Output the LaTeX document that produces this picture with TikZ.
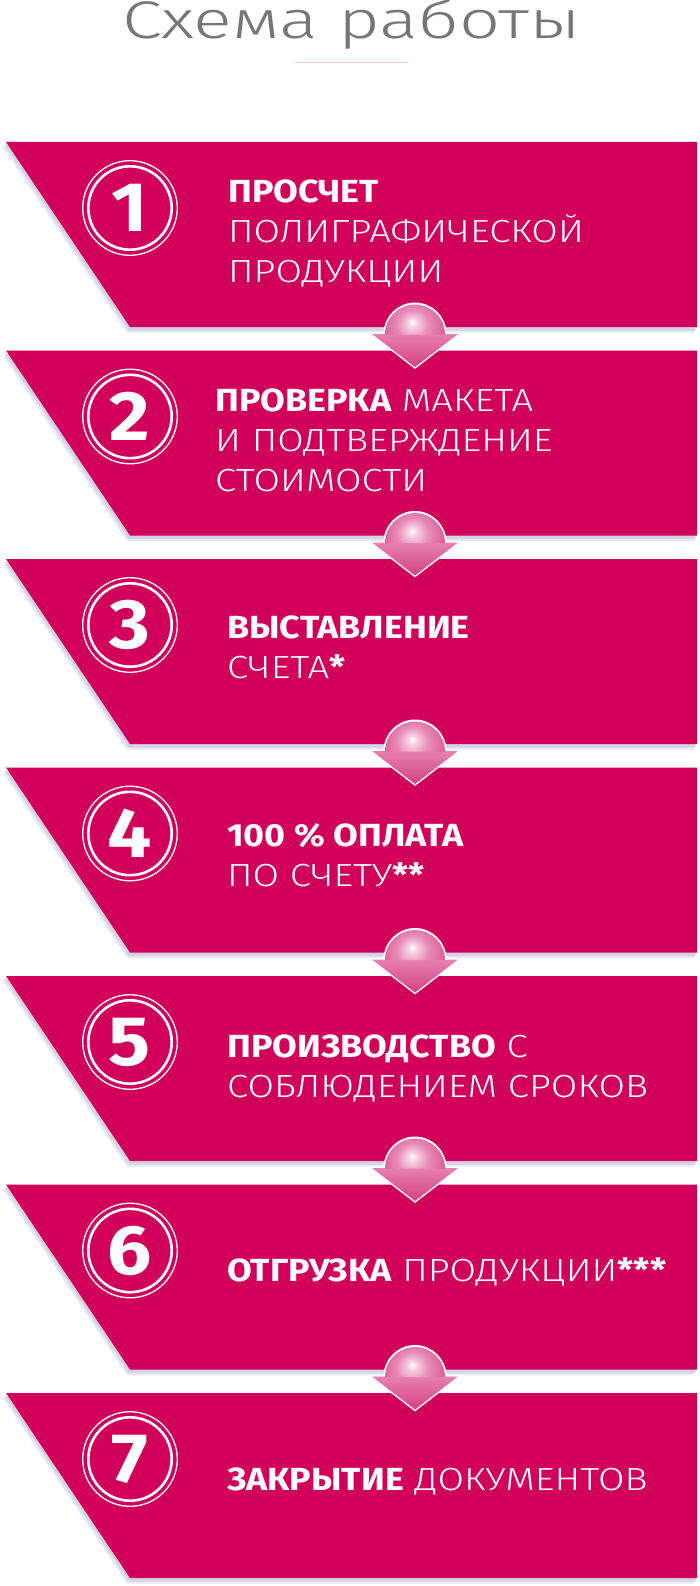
\documentclass[tikz,border=0pt]{standalone}
\usepackage{fontspec}
\setmainfont{Fira Sans}
\newfontfamily\lt{Fira Sans Light}[FakeStretch=1.2]
\newfontfamily\ttl{Fira Sans Light}[FakeStretch=1.36]
\newfontfamily\bd{Fira Sans}[FakeStretch=1.12]
\usetikzlibrary{calc}
\definecolor{mag}{RGB}{209,0,91}
\definecolor{titlegray}{RGB}{118,118,118}
\definecolor{uline}{RGB}{246,196,218}
\definecolor{shadowc}{RGB}{212,212,230}
\definecolor{shadowd}{RGB}{232,232,242}
\definecolor{pkA}{RGB}{246,206,224}
\definecolor{pkB}{RGB}{232,140,184}
\definecolor{pkC}{RGB}{218,88,146}
\definecolor{trtop}{RGB}{230,128,176}
\definecolor{trbot}{RGB}{212,66,132}
\pgfdeclareradialshading{pinkball}{\pgfpoint{-2.5bp}{10bp}}{color(0bp)=(white); color(4bp)=(pkA); color(13bp)=(pkB); color(28bp)=(pkC); color(50bp)=(pkC)}
\newcommand\bb[1]{{\bd\bfseries #1}}
\tikzset{
  panelshape/.style={fill=mag},
  ring/.style={draw=white, line width=1.3pt},
  ringin/.style={draw=white, line width=2.6pt},
  digit/.style={inner sep=0pt, text=white, font=\bd\bfseries\fontsize{70}{70}\selectfont},
  txt/.style={anchor=base west, inner sep=0pt, text=white, font=\lt\fontsize{32}{32}\selectfont},
  arrowedge/.style={draw=white, line width=3pt, line join=miter},
}
\begin{document}
\begin{tikzpicture}[x=1pt,y=-1pt]
\useasboundingbox (0,0) rectangle (700,1586);
\fill[white] (0,0) rectangle (700,1586);
% title
\node[anchor=base, inner sep=0pt, text=titlegray, font=\ttl\fontsize{53}{53}\selectfont] (title) at (352,39) {Схема работы};
\coordinate (ul1) at (295,63);
\coordinate (ul2) at (408,63);
\draw[uline, line width=1pt] (ul1) -- (ul2);
% panels
\foreach \i/\dg in {0/1,1/2,2/3,3/4,4/5,5/6,6/7}{
  \pgfmathsetmacro\Tp{142+208.5*\i}
  \pgfmathsetmacro\Bt{\Tp+185}
  \fill[shadowd] (3,\Tp+5) -- (694,\Tp+5) -- (694,\Bt+5.5) -- (127,\Bt+5.5) -- cycle;
  \fill[shadowc] (4.5,\Tp+3) -- (695.5,\Tp+3) -- (695.5,\Bt+3.5) -- (128.5,\Bt+3.5) -- cycle;
  \fill[panelshape] (6,\Tp) -- (697,\Tp) -- (697,\Bt) -- (130,\Bt) -- cycle;
  \coordinate (top\dg) at (415,\Tp);
  \coordinate (bot\dg) at (415,\Bt);
  \draw[ring] (130,\Tp+66) circle[radius=47.3pt];
  \draw[ringin] (130,\Tp+66) circle[radius=41.7pt];
  \node[digit] (n\dg) at (130,\Tp+66) {\dg};
}
% arrows between panels: dome + downward triangle
\foreach \a/\b in {1/2,2/3,3/4,4/5,5/6,6/7}{
  \draw[arrowedge] ($(bot\a)+(-43,7)$) -- ($(bot\a)+(-30,7)$) arc[start angle=180,end angle=0,radius=30pt] -- ($(bot\a)+(43,7)$) -- ($(top\b)+(0,16.5)$) -- cycle;
  \shade[top color=trtop, bottom color=trbot] ($(bot\a)+(-43,7)$) -- ($(bot\a)+(43,7)$) -- ($(top\b)+(0,16.5)$) -- cycle;
  \begin{scope}
    \clip ($(bot\a)+(-30,7.6)$) arc[start angle=180,end angle=0,radius=30pt] -- cycle;
    \shade[shading=pinkball] ($(bot\a)+(0,7)$) circle[radius=30pt];
  \end{scope}
}
% texts
\node[txt] (t1a) at (228,203) {\bb{ПРОСЧЕТ}};
\node[txt] (t1b) at (228,243) {ПОЛИГРАФИЧЕСКОЙ};
\node[txt] (t1c) at (228,283) {ПРОДУКЦИИ};
\node[txt] (t2a) at (215,411.5) {\bb{ПРОВЕРКА} МАКЕТА};
\node[txt] (t2b) at (215,451.5) {И ПОДТВЕРЖДЕНИЕ};
\node[txt] (t2c) at (215,491.5) {СТОИМОСТИ};
\node[txt] (t3a) at (227,638) {\bb{ВЫСТАВЛЕНИЕ}};
\node[txt] (t3b) at (227,678) {СЧЕТА\bb{*}};
\node[txt] (t4a) at (227,846) {\bb{100 \% ОПЛАТА}};
\node[txt] (t4b) at (227,886) {ПО СЧЕТУ\bb{**}};
\node[txt] (t5a) at (227,1057) {\bb{ПРОИЗВОДСТВО} С};
\node[txt] (t5b) at (227,1097) {СОБЛЮДЕНИЕМ СРОКОВ};
\node[txt] (t6a) at (227,1281) {\bb{ОТГРУЗКА} ПРОДУКЦИИ\bb{***}};
\node[txt] (t7a) at (227,1490) {\bb{ЗАКРЫТИЕ} ДОКУМЕНТОВ};
\end{tikzpicture}
\end{document}
